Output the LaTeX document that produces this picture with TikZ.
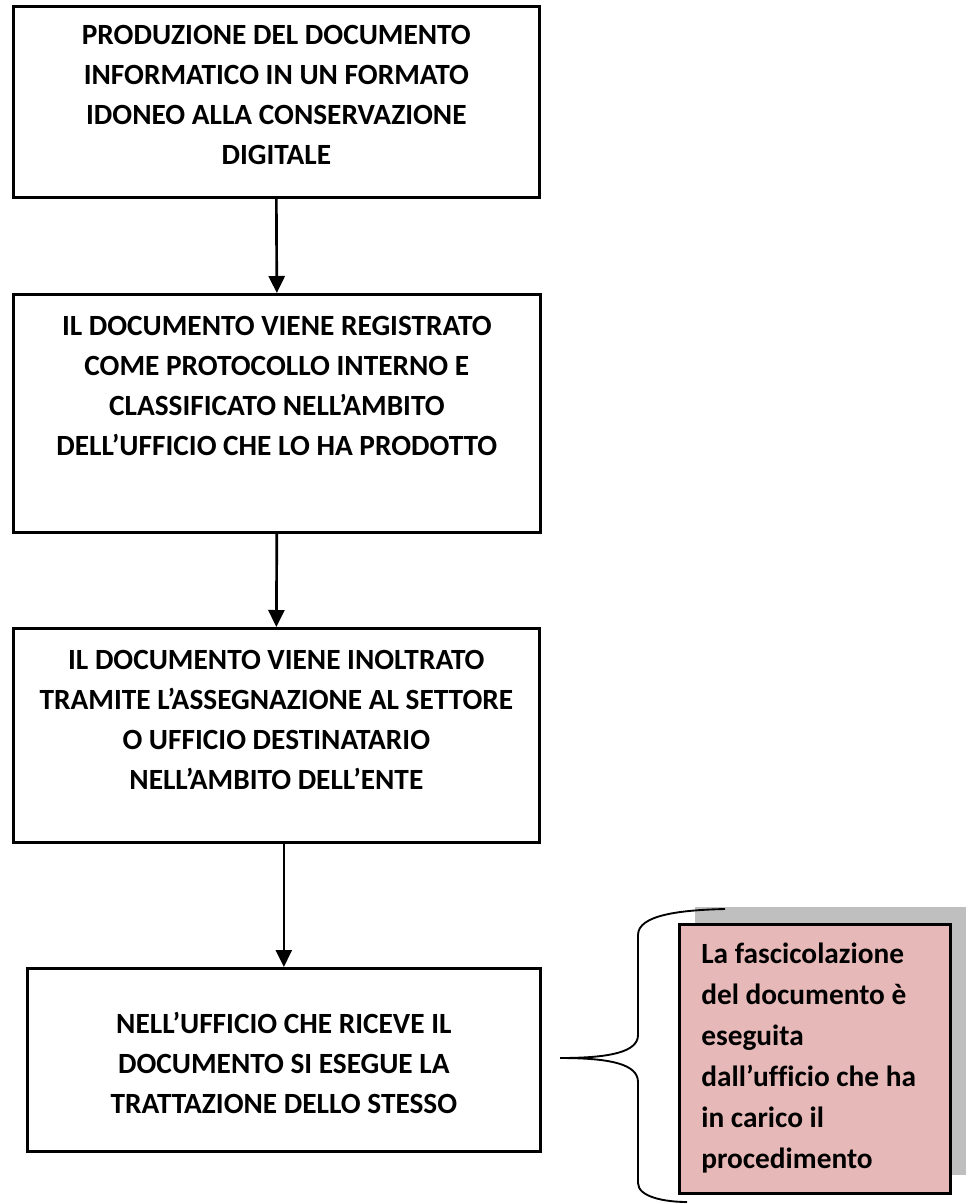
\documentclass[tikz,border=0pt]{standalone}
\usepackage{fontspec}
\setmainfont{Carlito}[Ligatures=NoCommon]
\usetikzlibrary{arrows.meta}
\newlength\px
\setlength\px{0.75pt}
\newcommand\boxtxt[4]{\parbox[t][#1\px][t]{#2\px}{\centering\rule{0pt}{#3\px}#4}}
\newcommand\pinktxt[4]{\parbox[t][#1\px][t]{#2\px}{\raggedright\leftskip=22\px\rule{0pt}{#3\px}#4}}
\definecolor{pinkfill}{HTML}{E6B8B7}
\definecolor{shadowgray}{HTML}{BFBFBF}
\begin{document}
\begin{tikzpicture}[x=0.75pt,y=-0.75pt,
  box/.style={draw, line width=2pt, inner sep=0pt, anchor=north west,
    font=\fontsize{22pt}{30pt}\selectfont\bfseries},
  pinkbox/.style={draw, line width=2pt, fill=pinkfill, inner sep=0pt, anchor=north west,
    font=\fontsize{22pt}{30.75pt}\selectfont\bfseries},
  arr/.style={line width=2pt, -{Triangle[width=12pt,length=12.75pt]}},
  brace/.style={line width=1.4pt}]
\useasboundingbox (0,0) rectangle (968,1204);

\node[box] (b1) at (12,5) {\boxtxt{191}{526}{38}{PRODUZIONE DEL DOCUMENTO\\INFORMATICO IN UN FORMATO\\IDONEO ALLA CONSERVAZIONE\\DIGITALE}};
\node[box] (b2) at (12,293) {\boxtxt{238}{527}{41}{IL DOCUMENTO VIENE REGISTRATO\\COME PROTOCOLLO INTERNO E\\CLASSIFICATO NELL’AMBITO\\DELL’UFFICIO CHE LO HA PRODOTTO}};
\node[box] (b3) at (12,627) {\boxtxt{214}{526}{41}{IL DOCUMENTO VIENE INOLTRATO\\TRAMITE L’ASSEGNAZIONE AL SETTORE\\O UFFICIO DESTINATARIO\\NELL’AMBITO DELL’ENTE}};
\node[box] (b4) at (26,967) {\boxtxt{183}{513}{65}{NELL’UFFICIO CHE RICEVE IL\\DOCUMENTO SI ESEGUE LA\\TRATTAZIONE DELLO STESSO}};

\fill[shadowgray] (695,907) rectangle (966,1175);
\node[pinkbox] (note) at (678,923) {\pinktxt{269}{271}{39}{La fascicolazione\\del documento è\\eseguita\\dall’ufficio che ha\\in carico il\\procedimento}};

\draw[arr] (b1.south) -- (b2.north);
\draw[arr] (b2.south) -- (b3.north);
\draw[arr] (b4.north |- b3.south) -- (b4.north);

\coordinate (tip) at (560,1058);
\draw[brace] (725,909) .. controls (680,910) and (638,915) .. (638,935) -- (638,1035)
  .. controls (638,1052) and (610,1058) .. (tip)
  .. controls (610,1058) and (638,1064) .. (638,1082) -- (638,1183)
  .. controls (638,1197) and (665,1202) .. (687,1202);
\end{tikzpicture}
\end{document}
